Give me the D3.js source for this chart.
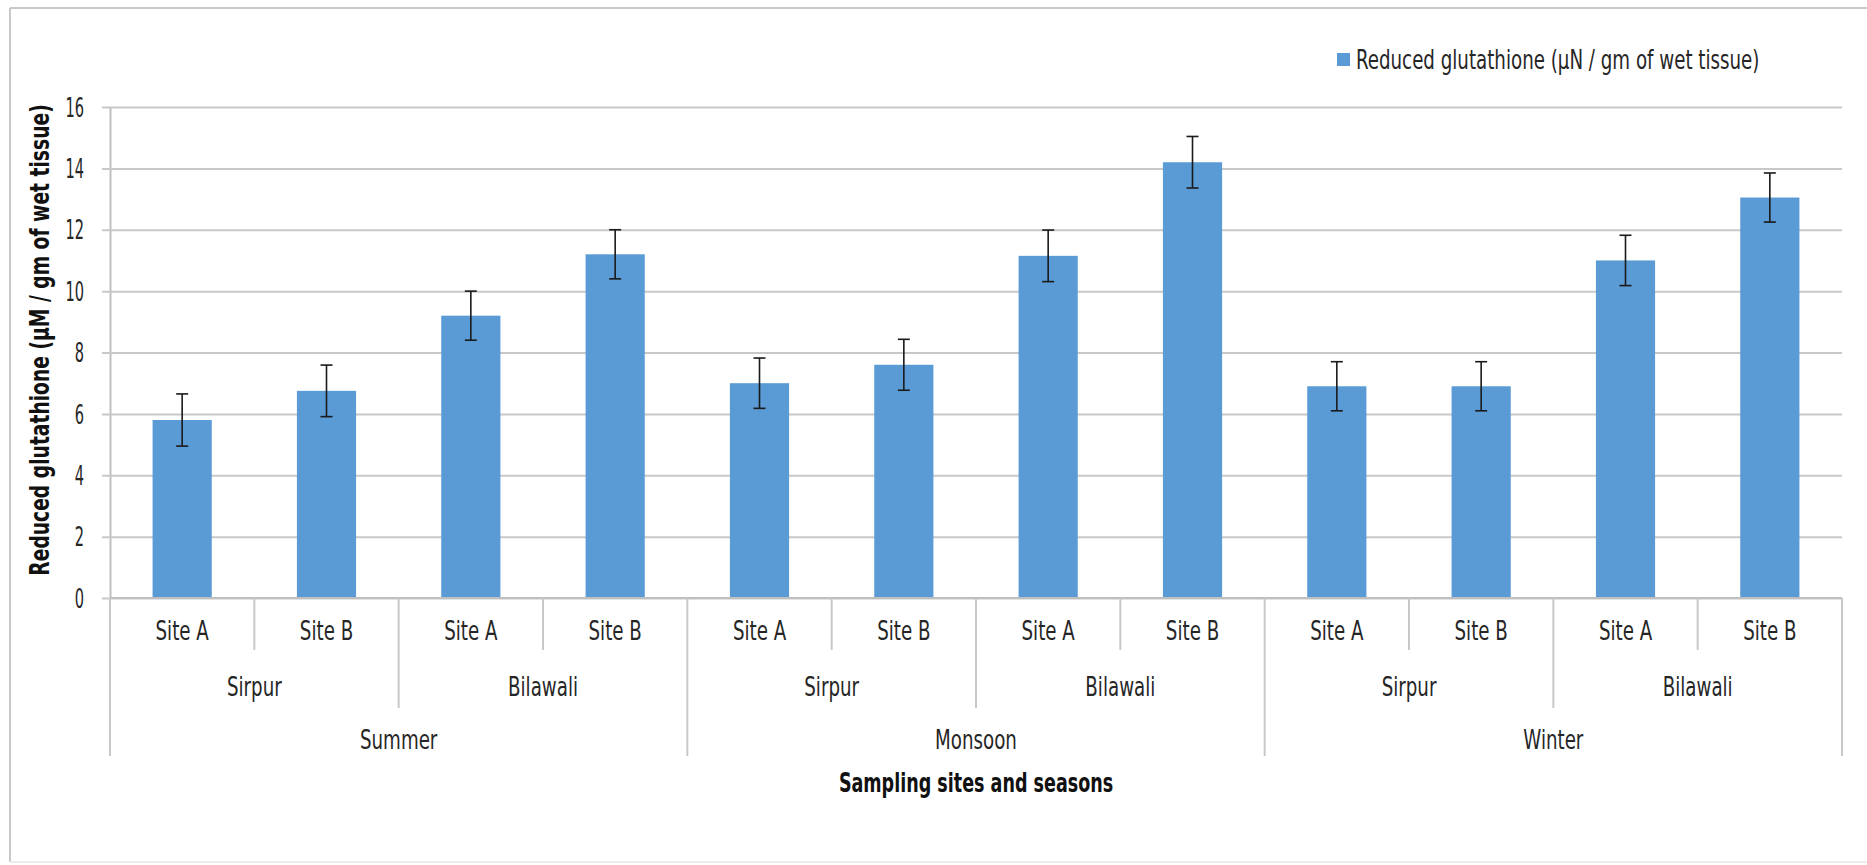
<!DOCTYPE html>
<html>
<head>
<meta charset="utf-8">
<script src="https://cdn.jsdelivr.net/npm/d3@7"></script>
<style>
  html, body { margin: 0; padding: 0; background: #fff; }
  svg { display: block; }
  text { font-family: "Liberation Sans Narrow", "DejaVu Sans Condensed", "Arial Narrow", sans-serif; fill: #262626; }
</style>
</head>
<body>
<svg id="chart" width="1867" height="865"></svg>
<script>
// Reduced glutathione per site, location and season
const seasons   = ["Summer", "Monsoon", "Winter"];
const locations = ["Sirpur", "Bilawali"];
const sites     = ["Site A", "Site B"];
const values    = [5.8, 6.75, 9.2, 11.2, 7.0, 7.6, 11.15, 14.2, 6.9, 6.9, 11.0, 13.05];
const errors    = [0.85, 0.84, 0.8, 0.8, 0.82, 0.83, 0.84, 0.84, 0.8, 0.8, 0.82, 0.8];
const yTicks    = [0, 2, 4, 6, 8, 10, 12, 14, 16];
const seriesName = "Reduced glutathione (\u00b5N / gm of wet tissue)";
const yTitle     = "Reduced glutathione  (\u00b5M / gm of wet tissue)";
const xTitle     = "Sampling sites and seasons";

// one record per bar, built from the arrays above
const rows = [];
seasons.forEach((s, si) => locations.forEach((l, li) => sites.forEach((t, ti) => {
  const i = si * 4 + li * 2 + ti;
  rows.push({ i, season: s, location: l, site: t, value: values[i], err: errors[i] });
})));

const svg = d3.select("#chart");
const W = 1867, H = 865;
const plot = { left: 110, right: 1842, top: 107, bottom: 598 };

svg.append("rect").attr("width", W).attr("height", H).attr("fill", "#fff");

// chart area frame
const frame = svg.append("g").attr("stroke", "#c9c9c9").attr("stroke-width", 2).attr("fill", "none");
frame.append("line").attr("x1", 10).attr("x2", W).attr("y1", 8).attr("y2", 8);
frame.append("line").attr("x1", 10).attr("x2", 10).attr("y1", 8).attr("y2", 862);
frame.append("line").attr("x1", 10).attr("x2", W).attr("y1", 862).attr("y2", 862).attr("stroke", "#ececec");

const x = d3.scaleBand()
  .domain(rows.map(d => d.i))
  .range([plot.left, plot.right])
  .paddingInner(0.59)
  .paddingOuter(0.295);
const step = x.step();

const y = d3.scaleLinear().domain([0, 16]).range([plot.bottom, plot.top]);

// helper for narrow, tall lettering
function label(g, tx, ty, str, opts = {}) {
  const sx = opts.sx || 0.8;
  return g.append("text")
    .attr("transform", `translate(${tx},${ty}) ${opts.rotate ? `rotate(${opts.rotate})` : ""} scale(${sx},1)`)
    .attr("text-anchor", opts.anchor || "middle")
    .attr("dominant-baseline", "central")
    .attr("font-size", opts.size || 26)
    .attr("font-weight", opts.bold ? "bold" : "normal")
    .style("fill", opts.fill || "#262626")
    .text(str);
}

// horizontal gridlines with outward ticks
const yAxis = d3.axisLeft(y).tickValues(yTicks)
  .tickSize(-(plot.right - plot.left)).tickSizeOuter(0).tickFormat("");
const gy = svg.append("g").attr("transform", `translate(${plot.left},0)`).call(yAxis);
gy.select(".domain").attr("stroke", "#bfbfbf").attr("stroke-width", 2);
gy.selectAll(".tick line").attr("stroke", "#c8c8c8").attr("stroke-width", 2).attr("x1", -8);

// y tick labels
const gyl = svg.append("g");
yTicks.forEach(v => label(gyl, 84, y(v), String(v), { anchor: "end", size: 27, sx: 0.6 }));

// bars
svg.append("g").selectAll("rect").data(rows).join("rect")
  .attr("x", d => x(d.i))
  .attr("width", x.bandwidth())
  .attr("y", d => y(d.value))
  .attr("height", d => y(0) - y(d.value))
  .attr("fill", "#5b9bd5");

// error bars
const eb = svg.append("g").attr("stroke", "#1a1a1a").attr("stroke-width", 1.6);
rows.forEach(d => {
  const cx = x(d.i) + x.bandwidth() / 2;
  eb.append("line").attr("x1", cx).attr("x2", cx).attr("y1", y(d.value + d.err)).attr("y2", y(d.value - d.err));
  [d.value + d.err, d.value - d.err].forEach(v =>
    eb.append("line").attr("x1", cx - 6).attr("x2", cx + 6).attr("y1", y(v)).attr("y2", y(v)));
});

// category axis base line
svg.append("line").attr("x1", plot.left).attr("x2", plot.right)
  .attr("y1", plot.bottom).attr("y2", plot.bottom)
  .attr("stroke", "#bfbfbf").attr("stroke-width", 2);

// multi-level category dividers
const div = svg.append("g").attr("stroke", "#c8c8c8").attr("stroke-width", 2);
const levelEnds = [650, 708, 756];
for (let k = 0; k <= rows.length; k++) {
  const xx = plot.left + k * step;
  const lvl = k % 4 === 0 ? 2 : (k % 2 === 0 ? 1 : 0);
  div.append("line").attr("x1", xx).attr("x2", xx).attr("y1", plot.bottom).attr("y2", levelEnds[lvl]);
}

// category labels, three tiers
const gx = svg.append("g");
rows.forEach(d => label(gx, x(d.i) + x.bandwidth() / 2, 631, d.site, { size: 26, sx: 0.78 }));
seasons.forEach((s, si) => {
  locations.forEach((l, li) => {
    const cx = plot.left + (si * 4 + li * 2 + 1) * step;
    label(gx, cx, 687, l, { size: 26, sx: 0.78 });
  });
  label(gx, plot.left + (si * 4 + 2) * step, 740, s, { size: 26, sx: 0.78 });
});

// axis titles
label(svg, (plot.left + plot.right) / 2, 783, xTitle, { size: 26, bold: true, sx: 0.75, fill: "#111" });
label(svg, 40, 340, yTitle, { size: 26, bold: true, sx: 0.8, rotate: -90, fill: "#111" });

// legend
const lg = svg.append("g");
lg.append("rect").attr("x", 1337).attr("y", 53).attr("width", 13).attr("height", 13).attr("fill", "#5b9bd5");
label(lg, 1356, 60, seriesName, { anchor: "start", size: 26, sx: 0.78 });
</script>
</body>
</html>
